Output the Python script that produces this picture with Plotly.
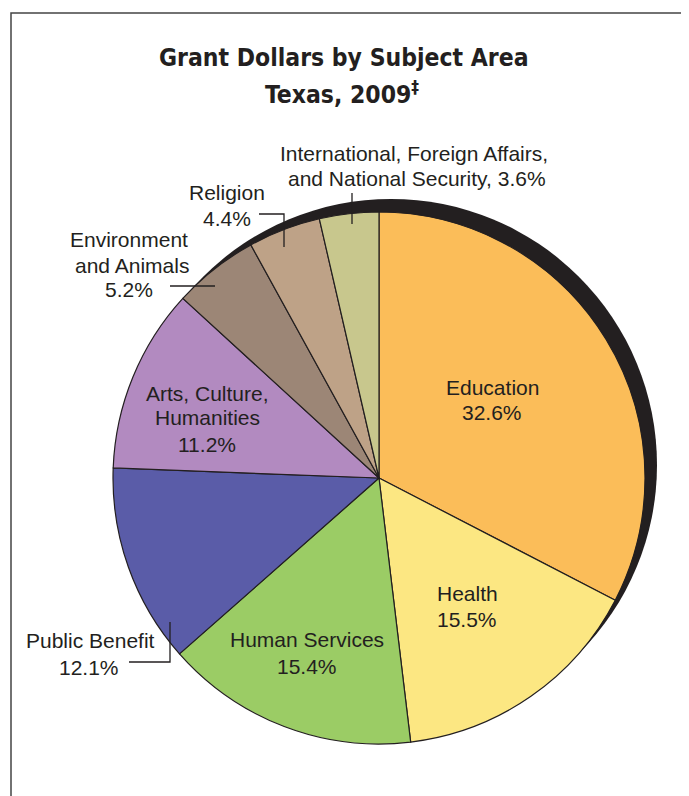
import plotly.graph_objects as go

categories = ["Education", "Health", "Human Services", "Public Benefit",
              "Arts, Culture, Humanities", "Environment and Animals", "Religion",
              "International, Foreign Affairs, and National Security"]
values = [32.6, 15.5, 15.4, 12.1, 11.2, 5.2, 4.4, 3.6]
colors = ["#FBBD59", "#FCE782", "#9BCC65", "#5A5CA8", "#B28AC0", "#9C8676", "#BEA287", "#C8C78D"]

W, H = 689, 796
INK = "#231F20"
OFF = 8  # page body margin

def px(x):
    return (x - OFF) / W

def py(y):
    return 1 - (y - OFF) / H

cx, cy, r = 379, 478, 266
sdx, sdy = 12, -13

fig = go.Figure()
# shadow pie
fig.add_trace(go.Pie(values=[1], labels=["shadow"], marker=dict(colors=[INK], line=dict(width=0)),
                     textinfo="none", hoverinfo="skip", showlegend=False, sort=False,
                     domain=dict(x=[px(cx + sdx - r), px(cx + sdx + r)],
                                 y=[py(cy + sdy + r), py(cy + sdy - r)])))
fig.add_trace(go.Pie(values=values, labels=categories, sort=False, direction="clockwise", rotation=0,
                     marker=dict(colors=colors, line=dict(color=INK, width=1.2)),
                     textinfo="none", showlegend=False,
                     domain=dict(x=[px(cx - r), px(cx + r)], y=[py(cy + r), py(cy - r)])))

pct = [f"{v}%" for v in values]
label_lines = [
    ("Education", 492, 387), (pct[0], 492, 413),
    ("Health", 467, 593), (pct[1], 467, 619),
    ("Human Services", 307, 639), (pct[2], 307, 666),
    ("Public Benefit", 90, 640), (pct[3], 89, 667),
    ("Arts, Culture,", 207, 393), ("Humanities", 207, 418), (pct[4], 207, 444),
    ("Environment", 129, 240), ("and Animals", 132, 265), (pct[5], 129, 290),
    ("Religion", 227, 193), (pct[6], 227, 219),
    ("International, Foreign Affairs,", 414, 154), ("and National Security, " + pct[7], 417, 179),
]
font_lbl = dict(family="Liberation Sans, Arial, sans-serif", size=21, color=INK)
annotations = []
for t, x, y in label_lines:
    annotations.append(dict(text=t, x=px(x), y=py(y), xref="paper", yref="paper",
                            xanchor="center", yanchor="middle", showarrow=False, font=font_lbl))

title_font = dict(family="DejaVu Sans Condensed, Liberation Sans Narrow, sans-serif",
                  size=24.5, color=INK, weight="bold")
annotations.append(dict(text="Grant Dollars by Subject Area", x=px(344), y=py(57), xref="paper",
                        yref="paper", xanchor="center", yanchor="middle", showarrow=False, font=title_font))
annotations.append(dict(text="Texas, 2009<sup>‡</sup>", x=px(342), y=py(93), xref="paper",
                        yref="paper", xanchor="center", yanchor="middle", showarrow=False, font=title_font))

def path(points):
    return "M " + " L ".join(f"{px(x)},{py(y)}" for x, y in points)

line_style = dict(color=INK, width=1.3)
shapes = [
    dict(type="path", path=path([(352, 193), (352, 224)]), xref="paper", yref="paper", line=line_style),
    dict(type="path", path=path([(259, 214), (284, 214), (284, 247)]), xref="paper", yref="paper", line=line_style),
    dict(type="path", path=path([(170, 286), (215, 286)]), xref="paper", yref="paper", line=line_style),
    dict(type="path", path=path([(170, 622), (170, 662), (129, 662)]), xref="paper", yref="paper", line=line_style),
    # frame
    dict(type="path", path=path([(11, 810), (11, 13), (684, 13), (684, 810)]), xref="paper", yref="paper",
         line=dict(color="#444444", width=1.5)),
]

fig.update_layout(width=W, height=H, margin=dict(l=0, r=0, t=0, b=0),
                  paper_bgcolor="white", plot_bgcolor="white",
                  annotations=annotations, shapes=shapes)
fig.write_html("out.html")
